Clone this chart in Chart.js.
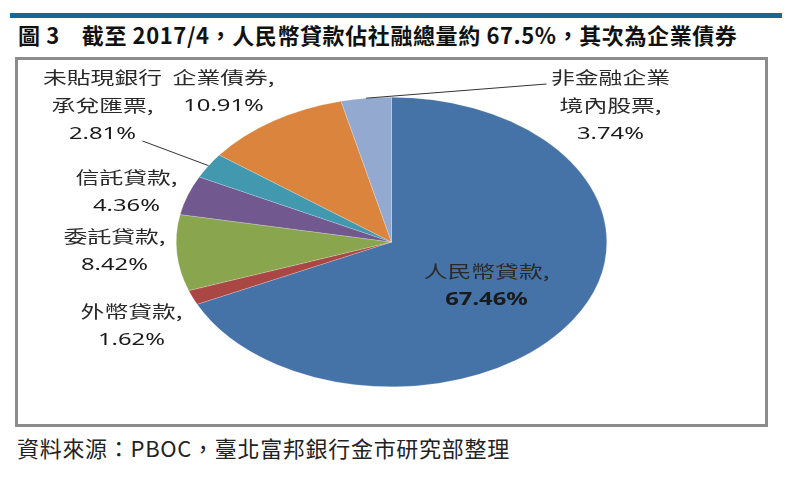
<!DOCTYPE html>
<html>
<head>
<meta charset="utf-8">
<script src="https://cdn.jsdelivr.net/npm/chart.js@4.4.1/dist/chart.umd.min.js"></script>
<style>
  body { margin: 0; background: #fff; width: 790px; height: 481px; overflow: hidden; position: relative;
         font-family: 'Noto Sans CJK TC', 'Noto Sans', sans-serif; }
  #bar { position: absolute; left: 10px; top: 13px; width: 772px; height: 5px; background: #12699a; }
  #title { position: absolute; left: 18px; top: 18px; font-size: 22px; font-weight: bold; color: #111;
           white-space: nowrap; line-height: 32px; letter-spacing: 0.6px; }
  #title .num { margin-right: 22px; }
  #frame { position: absolute; left: 15px; top: 57px; width: 747px; height: 364px; border: 3px solid #8c8c8c; }
  #source { position: absolute; left: 17px; top: 431px; font-size: 22px; color: #222; white-space: nowrap;
            line-height: 32px; letter-spacing: 0.7px; }
  #wrap { position: absolute; left: 0; top: 0; }
</style>
</head>
<body>
<div id="bar"></div>
<div id="title"><span class="num">圖 3</span>截至 2017/4，人民幣貸款佔社融總量約 67.5%，其次為企業債券</div>
<div id="frame"></div>
<div id="source">資料來源：PBOC，臺北富邦銀行金市研究部整理</div>
<div id="wrap"><canvas id="myChart" width="790" height="481"></canvas></div>
<script>
// Shares of total social financing, 2017/4 (%)
const categories = ['人民幣貸款', '外幣貸款', '委託貸款', '信託貸款', '未貼現銀行承兌匯票', '企業債券', '非金融企業境內股票'];
const shares = [67.46, 1.62, 8.42, 4.36, 2.81, 10.91, 3.74];

const sliceColors = ['#4572A7', '#AA4643', '#89A54E', '#71588F', '#4198AF', '#DB843D', '#93A9CF'];

// label placement, offsets from pie centre (first line centre)
const labelPos = [[95, 30], [-260, 70], [-277, -5], [-265, -64], [-289, -164], [-168, -164], [219, -164]];
// leader line start (offset from centre), null = none
const leaderFrom = [null, null, null, null, [-249, -101], null, [155, -158]];

const tilt = 145 / 215.5; // flatten the pie into an ellipse
const stretch = 1.4;      // labels in the picture are wide

const squashPie = {
    id: 'squashPie',
    beforeDatasetsDraw(chart) {
        const arc = chart.getDatasetMeta(0).data[0];
        const ctx = chart.ctx;
        ctx.save();
        ctx.translate(arc.x, arc.y);
        ctx.scale(1, tilt);
        ctx.translate(-arc.x, -arc.y);
    },
    afterDatasetsDraw(chart) {
        chart.ctx.restore();
    }
};

function wrapName(name) {
    // 5 chars per line, comma after the name
    const lines = [];
    for (let i = 0; i < name.length; i += 5) lines.push(name.slice(i, i + 5));
    lines[lines.length - 1] += ',';
    return lines;
}

function drawWide(ctx, text, x, y) {
    ctx.save();
    ctx.translate(x, y);
    ctx.scale(stretch, 1);
    ctx.fillText(text, 0, 0);
    ctx.restore();
}

const pieLabels = {
    id: 'pieLabels',
    afterDraw(chart) {
        const ctx = chart.ctx;
        const arcs = chart.getDatasetMeta(0).data;
        const cx = arcs[0].x, cy = arcs[0].y;
        const rx = arcs[0].outerRadius, ry = rx * tilt;
        ctx.save();
        ctx.textAlign = 'center';
        ctx.textBaseline = 'middle';
        arcs.forEach((arc, i) => {
            const lines = wrapName(categories[i]);
            const x = cx + labelPos[i][0];
            let y = cy + labelPos[i][1];
            ctx.fillStyle = '#2a2a2a';
            ctx.font = '17px "Noto Sans CJK TC", sans-serif';
            lines.forEach(t => { drawWide(ctx, t, x, y); y += 28; });
            ctx.fillStyle = '#1a1a1a';
            ctx.font = (i === 0 ? 'bold ' : '') + '17px "Noto Sans", sans-serif';
            drawWide(ctx, shares[i].toFixed(2) + '%', x, y);

            if (leaderFrom[i]) {
                const a = (arc.startAngle + arc.endAngle) / 2;
                ctx.strokeStyle = '#333';
                ctx.lineWidth = 1;
                ctx.beginPath();
                ctx.moveTo(cx + leaderFrom[i][0], cy + leaderFrom[i][1]);
                ctx.lineTo(cx + Math.cos(a) * rx, cy + Math.sin(a) * ry);
                ctx.stroke();
            }
        });
        ctx.restore();
    }
};

const ctx = document.getElementById('myChart').getContext('2d');
new Chart(ctx, {
    type: 'pie',
    data: {
        labels: categories,
        datasets: [{
            data: shares,
            backgroundColor: sliceColors,
            borderColor: 'rgba(255, 255, 255, 0.5)',
            borderWidth: 0.5
        }]
    },
    options: {
        responsive: false,
        animation: false,
        layout: {
            padding: { left: 176, right: 183, top: 26.5, bottom: 23.5 }
        },
        plugins: {
            legend: { display: false },
            tooltip: { enabled: false }
        }
    },
    plugins: [squashPie, pieLabels]
});
</script>
</body>
</html>
